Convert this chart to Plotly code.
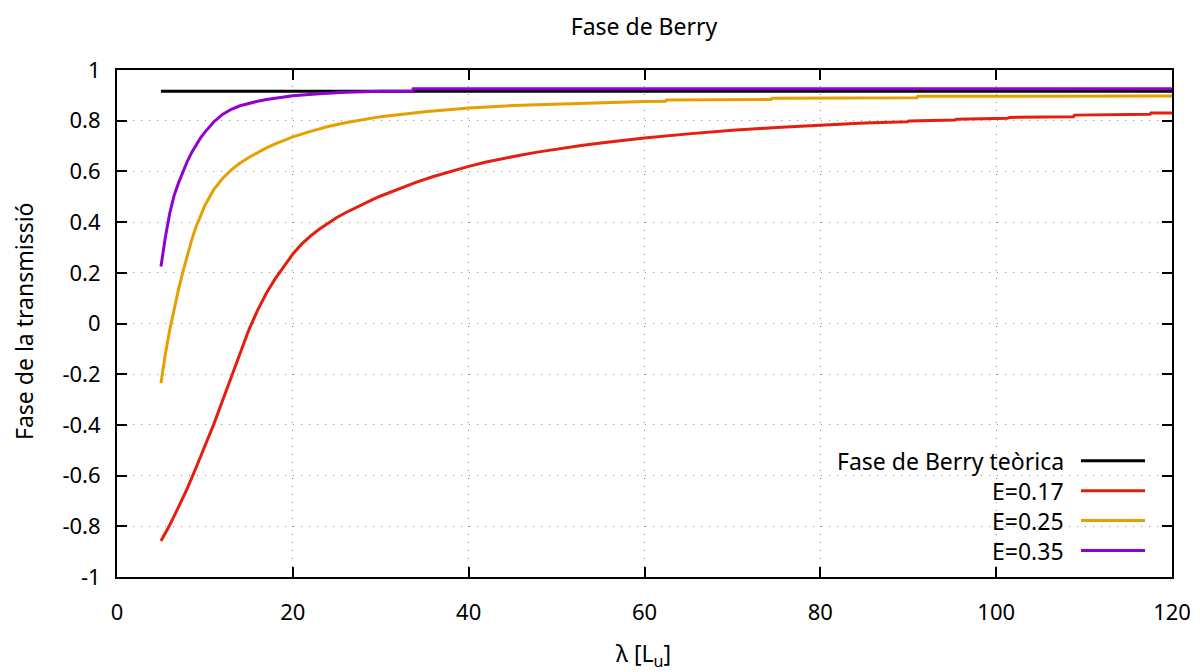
import plotly.graph_objects as go

# ---------------- data ----------------
lambda_teorica = [5, 120]
fase_teorica = [0.916, 0.916]

lambda_e017 = [5, 6, 7, 8, 9, 10, 11, 12, 13, 14, 15, 16, 17, 18, 19, 20, 21, 22, 23, 24, 25,
               26, 27, 28, 29, 30, 32, 34, 36, 38, 40, 42, 44, 46, 48, 50, 53, 56, 60, 65,
               70, 75, 80, 85, 89.9, 90.1, 95.3, 95.5, 101.3, 101.5, 108.8, 108.9, 117.5,
               117.6, 120]
fase_e017 = [-0.858, -0.795, -0.724, -0.650, -0.568, -0.485, -0.398, -0.305, -0.21, -0.115,
             -0.025, 0.053, 0.12, 0.177, 0.228, 0.274, 0.313, 0.345, 0.372, 0.396, 0.418,
             0.437, 0.455, 0.472, 0.488, 0.503, 0.531, 0.557, 0.58, 0.601, 0.62, 0.637,
             0.652, 0.665, 0.677, 0.688, 0.703, 0.716, 0.732, 0.748, 0.762, 0.773, 0.783,
             0.791, 0.796, 0.799, 0.803, 0.806, 0.810, 0.813, 0.816, 0.822, 0.825, 0.830,
             0.830]

lambda_e025 = [5, 5.5, 6, 6.5, 7, 7.5, 8, 8.5, 9, 9.5, 10, 11, 12, 13, 14, 15, 16, 17, 18, 20,
               22, 24, 26, 28, 30, 35, 40, 45, 49, 55, 60, 62.4, 62.5, 74.4, 74.5, 91.0,
               91.1, 120]
fase_e025 = [-0.236, -0.12, -0.025, 0.06, 0.135, 0.205, 0.27, 0.33, 0.383, 0.428, 0.466,
             0.528, 0.572, 0.606, 0.633, 0.655, 0.675, 0.693, 0.709, 0.736, 0.758, 0.777,
             0.792, 0.805, 0.816, 0.835, 0.85, 0.86, 0.865, 0.872, 0.876, 0.877, 0.882,
             0.884, 0.889, 0.891, 0.896, 0.897]

lambda_e035 = [5, 5.5, 6, 6.5, 7, 7.5, 8, 8.5, 9, 9.5, 10, 11, 12, 13, 14, 15, 16, 17, 18,
               20, 23, 26, 30, 33.6, 33.7, 120]
fase_e035 = [0.225, 0.34, 0.435, 0.505, 0.555, 0.6, 0.64, 0.675, 0.705, 0.732, 0.755, 0.795,
             0.825, 0.845, 0.859, 0.869, 0.877, 0.884, 0.889, 0.898, 0.906, 0.912, 0.916,
             0.917, 0.926, 0.926]

series_names = ["Fase de Berry teòrica", "E=0.17", "E=0.25", "E=0.35"]
series_colors = ["#000000", "#e51e10", "#e69f00", "#9400d3"]

x_tick_vals = [0, 20, 40, 60, 80, 100, 120]
x_tick_text = ["0", "20", "40", "60", "80", "100", "120"]
y_tick_vals = [-1, -0.8, -0.6, -0.4, -0.2, 0, 0.2, 0.4, 0.6, 0.8, 1]
y_tick_text = ["-1", "-0.8", "-0.6", "-0.4", "-0.2", "0", "0.2", "0.4", "0.6", "0.8", "1"]

title_text = "Fase de Berry"
x_title = "λ [L<sub>u</sub>]"
y_title = "Fase de la transmissió"

# ---------------- layout (page pixel targets) ----------------
FONT = "Noto Sans, DejaVu Sans, sans-serif"
FS = 23
FS_TICK = 22
OFF = 8                      # default body margin of the html page
W, H = 1200 - OFF, 672 - OFF
PL, PR, PT, PB = 117, 1172, 69.5, 577.5   # plot area in page pixels
ML = PL - OFF
MR = W - (PR - OFF)
MT = PT - OFF
MB = H - (PB - OFF)
pw = PR - PL
ph = PB - PT


def px_to_paper_x(px):
    return (px - PL) / pw


def px_to_paper_y(py):
    return (PB - py) / ph


fig = go.Figure()
xs = [lambda_teorica, lambda_e017, lambda_e025, lambda_e035]
ys = [fase_teorica, fase_e017, fase_e025, fase_e035]
for xv, yv, name, col in zip(xs, ys, series_names, series_colors):
    fig.add_trace(go.Scatter(x=xv, y=yv, mode="lines", name=name,
                             line=dict(color=col, width=3), showlegend=False))

axis_common = dict(
    showline=True, linecolor="black", linewidth=2, mirror="allticks",
    ticks="inside", ticklen=10, tickwidth=1.5, tickcolor="black",
    showgrid=True, gridcolor="#8a8a8a", gridwidth=1, griddash="1px,7px",
    zeroline=False, automargin=False,
    tickfont=dict(family=FONT, size=FS_TICK, color="black"),
)

fig.update_xaxes(range=[0, 120], tickvals=x_tick_vals, ticktext=x_tick_text,
                 ticklabelstandoff=15, **axis_common)
fig.update_yaxes(range=[-1, 1], tickvals=y_tick_vals, ticktext=y_tick_text,
                 ticklabelstandoff=10, **axis_common)

# axis titles
fig.add_annotation(x=px_to_paper_x(643), y=px_to_paper_y(655), xref="paper", yref="paper",
                   text=x_title, showarrow=False, xanchor="center", yanchor="middle",
                   font=dict(family=FONT, size=FS, color="black"))
fig.add_annotation(x=px_to_paper_x(24), y=px_to_paper_y(321), xref="paper", yref="paper",
                   text=y_title, showarrow=False, textangle=-90,
                   xanchor="center", yanchor="middle",
                   font=dict(family=FONT, size=FS, color="black"))

# gnuplot-style key (text right-aligned, sample line to the right)
key_rows_px = [461, 491, 521, 551]
text_right_px = 1066
line_x0_px, line_x1_px = 1081, 1145
for name, col, py in zip(series_names, series_colors, key_rows_px):
    yp = px_to_paper_y(py)
    fig.add_annotation(x=px_to_paper_x(text_right_px), y=yp, xref="paper", yref="paper",
                       text=name, showarrow=False, xanchor="right", yanchor="middle",
                       font=dict(family=FONT, size=FS, color="black"))
    fig.add_shape(type="line", xref="paper", yref="paper",
                  x0=px_to_paper_x(line_x0_px), x1=px_to_paper_x(line_x1_px), y0=yp, y1=yp,
                  line=dict(color=col, width=3))

fig.update_layout(
    width=W, height=H,
    margin=dict(l=ML, r=MR, t=MT, b=MB, pad=0),
    plot_bgcolor="white", paper_bgcolor="white",
    title=dict(text=title_text, x=(644 - OFF) / W, xanchor="center",
               y=1 - (27 - OFF) / H, yanchor="middle", yref="container",
               font=dict(family=FONT, size=FS, color="black")),
    font=dict(family=FONT, size=FS, color="black"),
)

fig.write_html("out.html")
